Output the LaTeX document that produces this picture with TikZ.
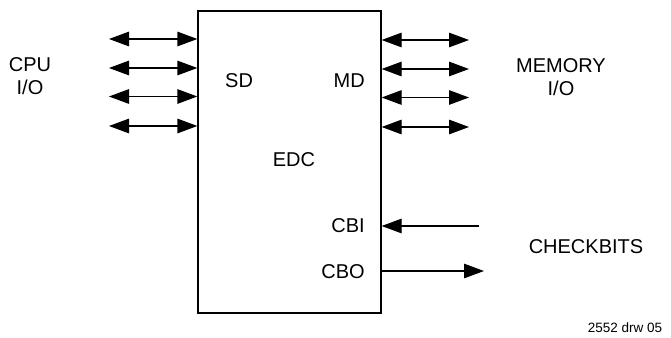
\documentclass[tikz,border=0pt]{standalone}
\usepackage{fontspec}
\setmainfont{Liberation Sans}
\usetikzlibrary{arrows.meta,positioning}

\begin{document}
\begin{tikzpicture}[x=1pt, y=-1pt,
    blk/.style={draw, line width=1.3pt, inner sep=0pt, minimum width=183pt, minimum height=302pt},
    lbl/.style={font=\fontsize{20}{23}\selectfont, align=center, inner sep=0pt},
    tag/.style={font=\fontsize{13.5}{15}\selectfont, inner sep=0pt},
    bus/.style={{Triangle[length=20pt,width=14.5pt]}-{Triangle[length=20pt,width=14.5pt]}, line width=1.3pt},
    sig/.style={-{Triangle[length=20pt,width=14.5pt]}, line width=1.3pt}
  ]
    \useasboundingbox (0,0) rectangle (671,337);
    \node[blk] (edc) at (289.5,162) {};
    % labels inside the block
    \node[lbl, anchor=west] (sd) at (225,81) {SD};
    \node[lbl, anchor=east] (md) at (365,81) {MD};
    \node[lbl] (core) at (294,160) {EDC};
    \node[lbl, anchor=east] (cbi) at (365,226) {CBI};
    \node[lbl, anchor=east] (cbo) at (365,272) {CBO};
    % outside labels
    \node[lbl] (cpu) at (30,76.5) {CPU\\I/O};
    \node[lbl] (mem) at (561,77) {MEMORY\\I/O};
    \node[lbl] (chk) at (586,247) {CHECKBITS};
    \node[tag] (drw) at (625,328) {2552 drw 05};
    % data buses
    \foreach \i/\y in {1/39,2/68,3/96.5,4/126}{
      \coordinate (cl\i) at (109,\y);
      \coordinate (mr\i) at (469,\y+1);
      \draw[bus] (cl\i) -- (cl\i -| edc.west);
      \draw[bus] (edc.east |- mr\i) -- (mr\i);
    }
    % checkbit lines
    \coordinate (cbin) at (479,226);
    \coordinate (cbout) at (484,271);
    \draw[sig] (cbin) -- (cbin -| edc.east);
    \draw[sig] (edc.east |- cbout) -- (cbout);
  \end{tikzpicture}
\end{document}
